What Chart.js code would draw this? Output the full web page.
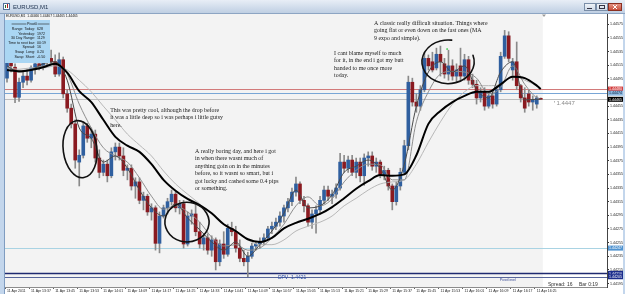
<!DOCTYPE html>
<html><head><meta charset="utf-8">
<script src="https://cdn.jsdelivr.net/npm/chart.js@4.4.1/dist/chart.umd.min.js"></script>
<style>html,body{margin:0;padding:0;background:#fff;overflow:hidden}canvas{display:block}</style>
</head><body>
<canvas id="c" width="625" height="294"></canvas>
<script>
const symbol = 'EURUSD,M1';
const openP = [
1.44496,1.44520,1.44512,1.44468,1.44490,1.44499,1.44493,1.44511,1.44517,1.44514,
1.44520,1.44525,1.44520,1.44502,1.44523,1.44473,1.44452,1.44429,1.44373,1.44383,
1.44426,1.44408,1.44414,1.44379,1.44358,1.44370,1.44353,1.44388,1.44395,1.44382,
1.44361,1.44364,1.44338,1.44344,1.44317,1.44323,1.44300,1.44306,1.44254,1.44294,
1.44306,1.44315,1.44326,1.44306,1.44312,1.44253,1.44294,1.44297,1.44271,1.44253,
1.44262,1.44244,1.44259,1.44227,1.44253,1.44238,1.44276,1.44271,1.44247,1.44232,
1.44227,1.44235,1.44250,1.44253,1.44257,1.44262,1.44275,1.44279,1.44285,1.44294,
1.44306,1.44315,1.44329,1.44341,1.44317,1.44309,1.44285,1.44297,1.44303,1.44317,
1.44332,1.44323,1.44326,1.44335,1.44373,1.44364,1.44376,1.44358,1.44373,1.44353,
1.44379,1.44382,1.44367,1.44373,1.44355,1.44361,1.44338,1.44315,1.44338,1.44358,
1.44397,1.44490,1.44461,1.44455,1.44479,1.44525,1.44520,1.44511,1.44531,1.44517,
1.44502,1.44514,1.44499,1.44514,1.44499,1.44523,1.44493,1.44487,1.44467,1.44476,
1.44455,1.44470,1.44458,1.44479,1.44528,1.44558,1.44508,1.44520,1.44485,1.44467,
1.44473,1.44461,1.44458,1.44466];
const highP = [
1.44525,1.44530,1.44517,1.44496,1.44505,1.44508,1.44514,1.44523,1.44528,1.44525,
1.44534,1.44537,1.44530,1.44533,1.44527,1.44479,1.44458,1.44435,1.44391,1.44432,
1.44430,1.44423,1.44420,1.44391,1.44376,1.44376,1.44394,1.44401,1.44401,1.44394,
1.44369,1.44369,1.44350,1.44350,1.44329,1.44326,1.44312,1.44309,1.44300,1.44310,
1.44320,1.44332,1.44329,1.44317,1.44317,1.44300,1.44303,1.44310,1.44285,1.44268,
1.44268,1.44265,1.44262,1.44259,1.44271,1.44282,1.44285,1.44279,1.44259,1.44244,
1.44241,1.44254,1.44256,1.44262,1.44268,1.44279,1.44285,1.44291,1.44300,1.44310,
1.44320,1.44335,1.44351,1.44344,1.44323,1.44312,1.44303,1.44309,1.44323,1.44338,
1.44338,1.44332,1.44341,1.44386,1.44383,1.44382,1.44383,1.44379,1.44379,1.44385,
1.44388,1.44388,1.44379,1.44376,1.44367,1.44364,1.44341,1.44344,1.44364,1.44405,
1.44499,1.44496,1.44473,1.44485,1.44534,1.44530,1.44534,1.44540,1.44543,1.44525,
1.44537,1.44523,1.44517,1.44540,1.44531,1.44528,1.44502,1.44493,1.44482,1.44482,
1.44476,1.44476,1.44485,1.44534,1.44566,1.44564,1.44525,1.44549,1.44487,1.44482,
1.44479,1.44470,1.44470,1.44467];
const lowP = [
1.44490,1.44505,1.44460,1.44462,1.44482,1.44486,1.44490,1.44502,1.44508,1.44508,
1.44514,1.44517,1.44498,1.44499,1.44467,1.44446,1.44423,1.44364,1.44338,1.44379,
1.44402,1.44394,1.44373,1.44350,1.44353,1.44344,1.44350,1.44376,1.44376,1.44353,
1.44347,1.44332,1.44320,1.44312,1.44303,1.44295,1.44288,1.44244,1.44240,1.44291,
1.44297,1.44310,1.44300,1.44297,1.44247,1.44250,1.44282,1.44265,1.44247,1.44244,
1.44238,1.44235,1.44215,1.44221,1.44232,1.44235,1.44265,1.44241,1.44227,1.44221,
1.44205,1.44232,1.44244,1.44247,1.44252,1.44259,1.44268,1.44274,1.44279,1.44285,
1.44300,1.44309,1.44323,1.44312,1.44300,1.44279,1.44276,1.44269,1.44297,1.44312,
1.44317,1.44312,1.44320,1.44332,1.44358,1.44358,1.44353,1.44350,1.44344,1.44339,
1.44367,1.44361,1.44358,1.44350,1.44347,1.44332,1.44303,1.44310,1.44332,1.44355,
1.44391,1.44455,1.44446,1.44449,1.44476,1.44508,1.44505,1.44508,1.44499,1.44496,
1.44493,1.44493,1.44490,1.44493,1.44493,1.44487,1.44482,1.44458,1.44461,1.44449,
1.44452,1.44452,1.44455,1.44476,1.44525,1.44520,1.44493,1.44479,1.44461,1.44446,
1.44455,1.44449,1.44452,1.44465];
const closeP = [
1.44520,1.44514,1.44468,1.44490,1.44499,1.44493,1.44511,1.44517,1.44514,1.44520,
1.44525,1.44520,1.44502,1.44523,1.44473,1.44452,1.44429,1.44376,1.44383,1.44426,
1.44408,1.44414,1.44379,1.44358,1.44370,1.44353,1.44388,1.44395,1.44382,1.44361,
1.44364,1.44338,1.44344,1.44317,1.44323,1.44300,1.44306,1.44254,1.44294,1.44306,
1.44315,1.44326,1.44306,1.44312,1.44253,1.44294,1.44297,1.44271,1.44253,1.44262,
1.44244,1.44259,1.44227,1.44253,1.44238,1.44276,1.44271,1.44247,1.44232,1.44227,
1.44235,1.44250,1.44253,1.44257,1.44262,1.44275,1.44279,1.44285,1.44294,1.44306,
1.44315,1.44329,1.44341,1.44317,1.44309,1.44285,1.44297,1.44303,1.44317,1.44332,
1.44323,1.44326,1.44335,1.44373,1.44364,1.44376,1.44358,1.44373,1.44353,1.44379,
1.44382,1.44367,1.44373,1.44355,1.44361,1.44338,1.44315,1.44338,1.44358,1.44397,
1.44490,1.44461,1.44455,1.44479,1.44525,1.44514,1.44508,1.44531,1.44520,1.44502,
1.44514,1.44499,1.44508,1.44499,1.44523,1.44493,1.44487,1.44467,1.44476,1.44455,
1.44470,1.44458,1.44479,1.44528,1.44558,1.44525,1.44520,1.44485,1.44467,1.44452,
1.44461,1.44464,1.44467,1.44465];

// moving-average lines, read at every third bar
const maIdx = [0,3,6,9,12,15,18,21,24,27,30,33,36,39,42,45,48,51,54,57,60,63,66,69,72,75,78,81,84,87,90,93,96,99,102,105,108,111,114,117,120,123,126,129,132,133];
const maBlack = [1.44508,1.44506,1.44508,1.44512,1.44517,1.44504,1.44477,1.44461,1.44435,1.44410,1.44397,1.44388,1.44370,1.44347,1.44331,1.44319,1.44310,1.44298,1.44282,1.44272,1.44260,1.44256,1.44262,1.44276,1.44284,1.44290,1.44297,1.44307,1.44320,1.44334,1.44345,1.44354,1.44353,1.44355,1.44383,1.44429,1.44448,1.44461,1.44470,1.44476,1.44476,1.44487,1.44498,1.44496,1.44485,1.44480];
const maFast = [1.44514,1.44505,1.44508,1.44517,1.44520,1.44493,1.44423,1.44408,1.44373,1.44382,1.44364,1.44332,1.44306,1.44294,1.44312,1.44291,1.44274,1.44256,1.44244,1.44256,1.44235,1.44252,1.44272,1.44298,1.44332,1.44306,1.44309,1.44325,1.44358,1.44367,1.44376,1.44364,1.44332,1.44370,1.44455,1.44505,1.44520,1.44505,1.44514,1.44479,1.44467,1.44505,1.44520,1.44464,1.44465,1.44465];
const maMid = [1.44512,1.44506,1.44509,1.44514,1.44518,1.44502,1.44458,1.44423,1.44394,1.44382,1.44373,1.44350,1.44323,1.44304,1.44309,1.44300,1.44285,1.44263,1.44250,1.44252,1.44244,1.44247,1.44262,1.44282,1.44309,1.44322,1.44309,1.44319,1.44344,1.44361,1.44370,1.44369,1.44347,1.44347,1.44432,1.44476,1.44502,1.44506,1.44505,1.44496,1.44473,1.44482,1.44514,1.44487,1.44467,1.44465];
const maSlow = [1.44511,1.44509,1.44511,1.44511,1.44514,1.44508,1.44493,1.44476,1.44455,1.44435,1.44414,1.44398,1.44382,1.44360,1.44341,1.44326,1.44312,1.44297,1.44282,1.44271,1.44259,1.44252,1.44252,1.44259,1.44272,1.44279,1.44285,1.44294,1.44309,1.44320,1.44332,1.44341,1.44344,1.44347,1.44370,1.44402,1.44432,1.44458,1.44476,1.44485,1.44485,1.44487,1.44499,1.44493,1.44485,1.44482];

const xTickLabels = ['11 Apr 2011','11 Apr 13:37','11 Apr 13:45','11 Apr 13:53','11 Apr 14:01','11 Apr 14:09','11 Apr 14:17','11 Apr 14:25','11 Apr 14:33','11 Apr 14:41','11 Apr 14:49','11 Apr 14:57','11 Apr 15:05','11 Apr 15:13','11 Apr 15:21','11 Apr 15:29','11 Apr 15:37','11 Apr 15:45','11 Apr 15:53','11 Apr 16:01','11 Apr 16:09','11 Apr 16:17','11 Apr 16:25'];
const yTickLabels = ['1.44575','1.44555','1.44535','1.44515','1.44495','1.44475','1.44455','1.44435','1.44415','1.44395','1.44375','1.44355','1.44335','1.44315','1.44295','1.44275','1.44255','1.44235','1.44215','1.44195'];

// horizontal price levels (red, blue, bid, light blue, navy DPV, navy pivot)
const levelPrices = [1.44480, 1.44474, 1.44465, 1.44247, 1.44210, 1.44205];

const infoLabels = ['Range  Today:','Yesterday:','30 Day Range:','Time to next bar:','Spread:','Swap  Long:','Swap  Short:'];
const infoValues = ['628','1972','1129','00:19','16','0.20','-0.50'];

const notes = [
  {i:91.45, p:1.445768, lines:['A classic really difficult situation. Things where','going flat or even down on the fast ones (MA','9 expo and simple).']},
  {i:81.5, p:1.445328, lines:['I cant blame myself to much','for it, in the end i got my butt','handed to me once more','today.']},
  {i:25.7, p:1.444493, lines:['This was pretty cool, although the drop before','it was a little deep so i was perhaps i little gutsy','here.']},
  {i:46.85, p:1.443892, lines:['A really boring day, and here i got','in when there wasnt much of','anything goin on in the minutes','before, so it wasnt so smart, but i','got lucky and cashed some 0.4 pips','or something.']}
];
const loops = [
  {i:18.2, p:1.44392, rx:4.2, ry:0.00042, rot:-0.12, a0:3.9, a1:3.9+6.9},
  {i:44.85, p:1.44285, rx:5.5, ry:0.00029, rot:0.04, a0:4.2, a1:4.2+6.7},
  {i:109.9, p:1.44520, rx:6.5, ry:0.00032, rot:0, a0:-0.3, a1:4.85}
];

const N_SLOTS = 150;
const slotLabels = Array.from({length:N_SLOTS}, (_, k) => k);
const BULL = '#2f5f9f', BEAR = '#8a1a20', WICK = '#8a8a8a';

const bodyColors = openP.map((o,k) => closeP[k] >= o ? BULL : BEAR);
const toPts = arr => maIdx.map((ix,k) => ({x: ix, y: arr[k]}));

const chromePlugin = {
  id:'chrome',
  beforeDraw(chart){
    const {ctx, chartArea:a, scales:{x}} = chart;
    const W = chart.width, H = chart.height;
    ctx.save();
    ctx.fillStyle = '#ffffff'; ctx.fillRect(0,0,W,H);
    const lastX = x.getPixelForValue(openP.length - 0.5);
    ctx.fillStyle = '#f3f3f3'; ctx.fillRect(a.left, a.top, lastX - a.left, a.bottom - a.top);
    // frame
    ctx.fillStyle = '#c3d6ec'; ctx.fillRect(0,0,4,H); ctx.fillRect(W-2,0,2,H);
    ctx.fillStyle = '#7f9cc0'; ctx.fillRect(4,13,1,H-13);
    // title bar
    const g = ctx.createLinearGradient(0,0,0,13);
    g.addColorStop(0,'#e8eef6'); g.addColorStop(1,'#bfcfe3');
    ctx.fillStyle = g; ctx.fillRect(0,0,W,13);
    ctx.fillStyle = '#8da5c3'; ctx.fillRect(0,13,W,1);
    // icon
    ctx.fillStyle = '#ffffff'; ctx.fillRect(3,3,7,7);
    ctx.strokeStyle = '#51709a'; ctx.lineWidth = 1; ctx.strokeRect(3.5,3.5,6,6);
    ctx.fillStyle = '#2a6a2a'; ctx.fillRect(5,5,1,3); ctx.fillStyle='#b02020'; ctx.fillRect(7,4,1,4);
    ctx.fillStyle = '#1c2f4d'; ctx.font = '6px "Liberation Sans"'; ctx.textBaseline = 'middle'; ctx.textAlign='left';
    ctx.fillText(symbol, 13, 7);
    // buttons
    const btn = (bx, bw, c1, c2, st) => { const gg = ctx.createLinearGradient(0,3,0,11); gg.addColorStop(0,c1); gg.addColorStop(1,c2); ctx.fillStyle=gg; ctx.fillRect(bx,3,bw,8); ctx.strokeStyle=st; ctx.strokeRect(bx+0.5,3.5,bw-1,7); };
    btn(584,12,'#f4f7fb','#c9d6e6','#7a8ea8');
    btn(596,12,'#f4f7fb','#c9d6e6','#7a8ea8');
    btn(608,14,'#e9a092','#c4432f','#8b3022');
    ctx.fillStyle='#334'; ctx.fillRect(587,8,5,1);
    ctx.strokeStyle='#334'; ctx.strokeRect(599.5,5.5,5,3);
    ctx.strokeStyle='#ffffff'; ctx.lineWidth=1; ctx.beginPath(); ctx.moveTo(613,5); ctx.lineTo(617,9); ctx.moveTo(617,5); ctx.lineTo(613,9); ctx.stroke();
    ctx.restore();
  },
  beforeDatasetsDraw(chart){
    const {ctx, chartArea:a, scales:{y}} = chart;
    const cols = ['#d27a7a','#78a6d6','#bdbdbd','#a9d3e3','#1f2a70','#56649a'];
    const widths = [1,1,1,1,1.5,1];
    ctx.save();
    levelPrices.forEach((p,k) => {
      const yy = Math.round(y.getPixelForValue(p)) + 0.5;
      ctx.strokeStyle = cols[k]; ctx.lineWidth = widths[k];
      ctx.beginPath(); ctx.moveTo(a.left, yy); ctx.lineTo(a.right, yy); ctx.stroke();
    });
    ctx.restore();
  },
  afterDatasetsDraw(chart){
    const {ctx, chartArea:a, scales:{x,y}} = chart;
    ctx.save();
    // hand-drawn loops
    ctx.strokeStyle = '#111'; ctx.lineWidth = 1.6; ctx.lineCap = 'round';
    loops.forEach(l => {
      const cx = x.getPixelForValue(l.i), cy = y.getPixelForValue(l.p);
      const rx = Math.abs(x.getPixelForValue(l.i + l.rx) - cx);
      const ry = Math.abs(y.getPixelForValue(l.p + l.ry) - cy);
      ctx.beginPath(); ctx.ellipse(cx, cy, rx, ry, l.rot, l.a0, l.a1); ctx.stroke();
    });
    // notes
    ctx.fillStyle = '#1b1b1b'; ctx.font = '5.9px "Liberation Serif"'; ctx.textBaseline = 'middle'; ctx.textAlign = 'left';
    notes.forEach(n => {
      const x0 = x.getPixelForValue(n.i), y0 = y.getPixelForValue(n.p);
      n.lines.forEach((t,k) => ctx.fillText(t, x0, y0 + k*7.5));
    });
    // top-left quote line
    const L = openP.length - 1;
    ctx.fillStyle = '#111'; ctx.font = '3.3px "Liberation Sans"';
    ctx.fillText(symbol + '  ' + [openP[L],highP[L],lowP[L],closeP[L]].map(v=>v.toFixed(5)).join(' '), a.left + 1, a.top + 2.5);
    // info box
    const bx = a.left, by = a.top + 6;
    ctx.fillStyle = '#aad6f3'; ctx.fillRect(bx, by, 45, 43);
    ctx.fillStyle = '#111'; ctx.font = '3.6px "Liberation Sans"';
    ctx.textAlign = 'center'; ctx.fillText('Pivot0', bx + 27, by + 4);
    ctx.strokeStyle = '#222'; ctx.lineWidth = 0.6;
    ctx.beginPath(); ctx.moveTo(bx+7, by+4); ctx.lineTo(bx+21, by+4); ctx.moveTo(bx+33, by+4); ctx.lineTo(bx+44, by+4); ctx.stroke();
    infoLabels.forEach((t,k) => {
      ctx.textAlign = 'right'; ctx.fillText(t, bx + 30, by + 9 + k*4.6);
      ctx.textAlign = 'left'; ctx.fillText(infoValues[k], bx + 32, by + 9 + k*4.6);
    });
    // level texts
    ctx.textAlign = 'left';
    ctx.fillStyle = '#2d4ea8'; ctx.font = '5px "Liberation Sans"';
    ctx.fillText('DPV  1.4421', x.getPixelForValue(67.5), y.getPixelForValue(levelPrices[5]) + 0.5);
    ctx.fillStyle = '#2d3f8e'; ctx.font = '3.5px "Liberation Sans"';
    ctx.fillText('Pivot level', x.getPixelForValue(122.8), y.getPixelForValue(levelPrices[5]) + 3.5);
    ctx.fillStyle = '#8a8a8a'; ctx.font = '6px "Liberation Sans"';
    ctx.fillText('1.4447', x.getPixelForValue(136.9), y.getPixelForValue(1.44459));
    ctx.fillRect(x.getPixelForValue(136.3), y.getPixelForValue(1.44462), 1, 1);
    ctx.fillStyle = '#333'; ctx.font = '5px "Liberation Sans"';
    ctx.fillText('Spread: 16', a.right - 59, a.bottom - 2.5);
    ctx.fillText('Bar 0:19', a.right - 28, a.bottom - 2.5);
    // markers
    ctx.fillStyle = '#2ecc40'; ctx.fillRect(x.getPixelForValue(109.6) - 0.5, y.getPixelForValue(1.44539) - 0.5, 1.5, 1.5);
    ctx.fillStyle = '#9a9a9a';
    const sx = x.getPixelForValue(133.8);
    ctx.beginPath(); ctx.moveTo(sx-2, a.top+0.5); ctx.lineTo(sx+2, a.top+0.5); ctx.lineTo(sx, a.top+3); ctx.closePath(); ctx.fill();
    ctx.restore();
  },
  afterDraw(chart){
    const {ctx, chartArea:a, scales:{y}} = chart;
    const bg = ['#d23c3c','#8db8e0','#000000','#4f93d0','#1a2c8c','#1a2c8c'];
    const fg = ['#ffffff','#10243f','#ffffff','#ffffff','#ffffff','#ffffff'];
    ctx.save();
    ctx.font = '3.6px "Liberation Sans"'; ctx.textBaseline = 'middle'; ctx.textAlign = 'left';
    levelPrices.forEach((p,k) => {
      const yy = y.getPixelForValue(p);
      ctx.fillStyle = bg[k]; ctx.fillRect(a.right + 1, yy - 2.5, 15, 5);
      ctx.fillStyle = fg[k]; ctx.fillText(p.toFixed(5), a.right + 2, yy + 0.2);
    });
    ctx.restore();
  }
};

new Chart(document.getElementById('c'), {
  type: 'bar',
  data: {
    labels: slotLabels,
    datasets: [
      {type:'line', data: toPts(maBlack), borderColor:'#000000', borderWidth:2, pointRadius:0, cubicInterpolationMode:'monotone', order:1},
      {type:'line', data: toPts(maFast), borderColor:'#4a4a4a', borderWidth:1, pointRadius:0, cubicInterpolationMode:'monotone', order:2},
      {type:'line', data: toPts(maMid), borderColor:'#8e8e8e', borderWidth:1, pointRadius:0, cubicInterpolationMode:'monotone', order:3},
      {type:'line', data: toPts(maSlow), borderColor:'#b8b8b8', borderWidth:1, pointRadius:0, cubicInterpolationMode:'monotone', order:4},
      {type:'bar', data: openP.map((o,k) => [o, closeP[k]]), backgroundColor: bodyColors, barThickness:3, minBarLength:1, grouped:false, order:8},
      {type:'bar', data: lowP.map((l,k) => [l, highP[k]]), backgroundColor: WICK, barThickness:1, grouped:false, order:9}
    ]
  },
  options: {
    responsive:false, animation:false, devicePixelRatio:1,
    layout:{ autoPadding:false, padding:{left:5, top:14, right:2, bottom:0} },
    plugins:{ legend:{display:false}, tooltip:{enabled:false} },
    scales:{
      x:{
        type:'category', offset:true,
        grid:{ offset:true, drawOnChartArea:false, tickLength:2, color:(c)=> (c.index % 6 === 0 && c.index/6 < xTickLabels.length) ? '#666' : 'rgba(0,0,0,0)' },
        border:{ display:true, color:'#8c8c8c' },
        ticks:{ autoSkip:false, maxRotation:0, minRotation:0, align:'start', padding:0, color:'#222', font:{size:3.5, family:'Liberation Sans'},
          callback:(v,i)=> (i % 6 === 0 && xTickLabels[i/6]) ? xTickLabels[i/6] : '' },
        afterFit(s){ s.height = 7; }
      },
      y:{
        position:'right', min:1.44190, max:1.44590,
        afterBuildTicks(s){ s.ticks = yTickLabels.map(t => ({value: parseFloat(t)})); },
        grid:{ drawOnChartArea:false, tickLength:2, color:'#333' },
        border:{ display:true, color:'#444' },
        ticks:{ padding:1, color:'#222', font:{size:3.6, family:'Liberation Sans'}, callback:(v,i)=> yTickLabels[i] },
        afterFit(s){ s.width = 16; }
      }
    }
  },
  plugins:[chromePlugin]
});
</script>
</body></html>
